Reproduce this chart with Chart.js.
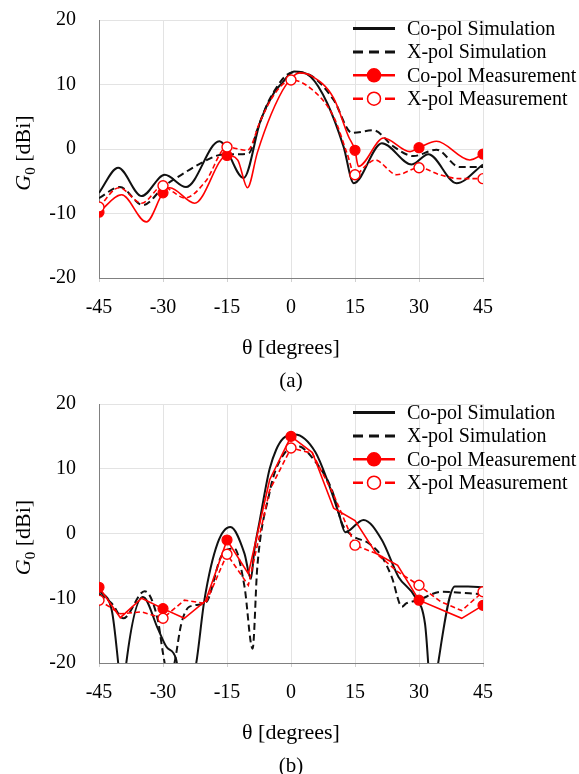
<!DOCTYPE html>
<html>
<head>
<meta charset="utf-8">
<script src="https://cdn.jsdelivr.net/npm/chart.js@4.4.1/dist/chart.umd.min.js"></script>
<style>
  html, body { margin: 0; padding: 0; background: #fff; }
  #wrap { position: relative; width: 579px; height: 774px; overflow: hidden; }
  .panel { position: absolute; left: 0; width: 579px; }
  #pa { top: 0; height: 396px; }
  #pb { top: 384px; height: 390px; }
</style>
</head>
<body>
<div id="wrap">
  <div class="panel" id="pa"><canvas id="chartA"></canvas></div>
  <div class="panel" id="pb"><canvas id="chartB"></canvas></div>
</div>
<script>
// ===== Data =====
const seriesLabels = ["Co-pol Simulation", "X-pol Simulation", "Co-pol Measurement", "X-pol Measurement"];
const thetaTicks = [-45, -30, -15, 0, 15, 30, 45];
const gainTicks = [-20, -10, 0, 10, 20];

// (a)
const aCoSimTheta = [-45, -40.5, -35, -29.6, -24.6, -16.8, -11.1, -7.1, -4, -2, 0.7, 4.6, 8.5, 12.3, 14.7, 21.3, 28.3, 32.2, 38.8, 45];
const aCoSimGain  = [-6.8, -2.9, -7.3, -4.0, -5.9, 1.2, -4.5, 4.5, 8.7, 10.3, 12.0, 11.2, 7.1, 0.4, -5.3, 0.9, -2.4, -0.8, -5.3, -2.4];

const aXSimTheta = [-45, -40.1, -34.7, -29.6, -25.7, -21.1, -16.4, -12, -9.8, -7.9, -4.7, 0.5, 4.6, 10.0, 14.3, 19.3, 24.0, 28.7, 34.1, 39.5, 45];
const aXSimGain  = [-7.6, -5.9, -8.7, -5.7, -4.0, -2.2, -0.9, -0.8, -0.6, 3.0, 8.1, 11.9, 11.4, 7.6, 2.5, 2.9, 0.4, -1.1, -0.1, -2.8, -2.8];

const aCoMeasTheta = [-45, -39.7, -33.9, -30, -28.4, -22.6, -15, -12.5, -10.2, -7.9, -4.7, -1.2, 2, 4.6, 10, 13.5, 15, 15.8, 21.7, 27.9, 30, 34.1, 41.9, 45];
const aCoMeasGain  = [-9.8, -7.1, -11.3, -6.8, -6.0, -8.4, -1.0, -1.7, -6.0, -0.6, 5.3, 9.9, 11.8, 11.4, 7.9, 1.9, -0.2, -2.7, 1.7, -0.4, 0.2, 1.2, -1.7, -0.8];
const aCoMarks = [-45, -30, -15, 15, 30, 45];

const aXMeasTheta = [-45, -40.3, -35, -30, -28, -24.9, -20, -15, -10.2, -7.1, -4, 0, 4.6, 10, 13.1, 15, 17.8, 19.7, 24.8, 30, 34.9, 39.5, 45];
const aXMeasGain  = [-9.0, -6.0, -8.4, -5.7, -6.5, -7.6, -5.0, 0.3, -0.2, 4.5, 8.4, 10.7, 9.4, 5.0, -0.6, -4.0, -2.4, -1.7, -4.0, -2.9, -4.0, -4.6, -4.6];
const aXMarks = [-45, -30, -15, 0, 15, 30, 45];

// (b)
const bCoSimTheta = [-45, -42, -40.5, -39.5, -38.6, -34.7, -31.2, -29.2, -26.9, -25, -22.2, -20.3, -17.2, -14.2, -10.9, -9.4, -8.6, -7.3, -5.9, -5.0, -3.5, -1.8, 0.9, 5.7, 8.8, 11.2, 12.7, 17.0, 21.3, 25.2, 29.1, 31.4, 33.2, 34.5, 38.4, 41.5, 45];
const bCoSimGain  = [-8.8, -11.9, -20, -27, -20, -9.8, -14.7, -17.5, -19.5, -28, -20, -10.3, -1.5, 1.0, -3.1, -7.0, -2.6, 2.1, 7.2, 10.0, 12.9, 14.7, 15.3, 12.6, 7.7, 3.1, 0.2, 2.1, -1.0, -6.7, -9.8, -13.9, -27, -20, -8.2, -8.2, -8.3];

const bXSimTheta = [-45, -42, -39.3, -34.3, -31.2, -30, -28.5, -27.3, -25.7, -23.8, -19.9, -16.4, -13.3, -10.9, -9.0, -7.9, -5.0, -3.6, 0.3, 1.5, 5.7, 9.6, 12, 14.3, 18.2, 21.3, 23.6, 26, 27, 29.8, 35.3, 45];
const bXSimGain  = [-9.3, -10.8, -13.1, -8.9, -13.4, -18.5, -23, -20, -13.9, -11.3, -10.6, -3.6, -2.3, -8.2, -17.8, -5.2, 6.4, 9.8, 13.4, 13.5, 11.1, 6.7, 1.5, -0.3, -1.5, -3.6, -6.7, -11.3, -10.8, -10.3, -9.0, -9.4];

const bMeasTheta = [-45, -40, -35, -30, -25, -20, -15, -10, -5, 0, 5, 10, 15, 20, 25, 30, 35, 40, 45];
const bCoMeasGain = [-8.3, -13.0, -10.0, -11.6, -13.1, -10.4, -1.0, -6.2, 8.3, 15.0, 12.5, 3.9, 2.0, -3.1, -4.9, -10.3, -11.7, -13.1, -11.1];
const bCoMarks = [-45, -30, -15, 0, 30, 45];
const bXMeasGain  = [-10.3, -12.4, -12.1, -13.1, -10.3, -10.8, -3.2, -8.0, 6.7, 13.2, 12.4, 6.0, -1.8, -3.1, -5.9, -8.0, -10.5, -11.9, -9.0];
const bXMarks = [-45, -30, -15, 0, 15, 30, 45];

// ===== Helpers =====
const SERIF = "'Liberation Serif', 'Times New Roman', serif";
const RED = "#ff0000";
const BLACK = "#111111";

function pts(theta, gain) {
  return theta.map((t, i) => ({ x: t, y: gain[i] }));
}

function markRadius(marks) {
  return (ctx) => (ctx.raw && marks.includes(ctx.raw.x) ? 5 : 0);
}

// titles, caption and legend drawn straight on the canvas
const decor = {
  id: "decor",
  afterDraw(chart, args, opts) {
    const { ctx, chartArea: a } = chart;
    ctx.save();

    // legend
    const lx0 = 353, lx1 = 395, tx = 407;
    chart.data.datasets.forEach((ds, i) => {
      const y = a.top + 8.5 + i * 23.4;
      ctx.strokeStyle = ds.borderColor;
      ctx.lineWidth = ds.borderColor === RED ? 2.4 : 3;
      ctx.setLineDash(ds.borderDash ? [10, 6] : []);
      ctx.beginPath();
      ctx.moveTo(lx0, y);
      ctx.lineTo(lx1, y);
      ctx.stroke();
      ctx.setLineDash([]);
      if (ds.legendMarker) {
        ctx.beginPath();
        ctx.arc((lx0 + lx1) / 2, y, 6.5, 0, Math.PI * 2);
        ctx.fillStyle = ds.pointBackgroundColor;
        ctx.fill();
        ctx.lineWidth = 1.5;
        ctx.strokeStyle = RED;
        ctx.stroke();
      }
      ctx.fillStyle = "#000";
      ctx.font = `20px ${SERIF}`;
      ctx.textAlign = "left";
      ctx.textBaseline = "middle";
      ctx.fillText(ds.label, tx, y + 1);
    });

    // x title and caption
    const cx = (a.left + a.right) / 2;
    ctx.fillStyle = "#000";
    ctx.textAlign = "center";
    ctx.textBaseline = "middle";
    ctx.font = `22px ${SERIF}`;
    ctx.fillText("θ [degrees]", cx, a.bottom + 70);
    ctx.font = `21px ${SERIF}`;
    ctx.fillText(opts.caption, cx, a.bottom + 103);

    // y title: G (italic) with subscript 0, then [dBi]
    ctx.translate(23, (a.top + a.bottom) / 2 + 4);
    ctx.rotate(-Math.PI / 2);
    ctx.textAlign = "left";
    ctx.textBaseline = "alphabetic";
    const fG = `italic 22px ${SERIF}`, fSub = `15px ${SERIF}`, fT = `22px ${SERIF}`;
    ctx.font = fG; const wG = ctx.measureText("G").width;
    ctx.font = fSub; const wS = ctx.measureText("0").width;
    ctx.font = fT; const wT = ctx.measureText(" [dBi]").width;
    let x = -(wG + wS + wT) / 2;
    const base = 7;
    ctx.font = fG; ctx.fillText("G", x, base); x += wG;
    ctx.font = fSub; ctx.fillText("0", x, base + 5); x += wS;
    ctx.font = fT; ctx.fillText(" [dBi]", x, base);

    ctx.restore();
  },
};

function makeChart(canvasId, d, caption, axisHeight, smoothMeas) {
  const meas = smoothMeas ? { cubicInterpolationMode: "monotone" } : { tension: 0 };
  const datasets = [
    { label: seriesLabels[0], data: pts(d.coSimT, d.coSimG), borderColor: BLACK, borderWidth: 2,
      pointRadius: 0, cubicInterpolationMode: "monotone", order: 3 },
    { label: seriesLabels[1], data: pts(d.xSimT, d.xSimG), borderColor: BLACK, borderWidth: 2,
      borderDash: [7, 4], pointRadius: 0, cubicInterpolationMode: "monotone", order: 2 },
    { label: seriesLabels[2], data: pts(d.coMeasT, d.coMeasG), borderColor: RED, borderWidth: 1.6,
      pointRadius: markRadius(d.coMarks), pointBackgroundColor: RED, pointBorderColor: RED,
      pointBorderWidth: 1.2, legendMarker: true, order: 1, ...meas },
    { label: seriesLabels[3], data: pts(d.xMeasT, d.xMeasG), borderColor: RED, borderWidth: 1.6,
      borderDash: [5, 3], pointRadius: markRadius(d.xMarks), pointBackgroundColor: "#ffffff",
      pointBorderColor: RED, pointBorderWidth: 1.4, legendMarker: true, order: 0, ...meas },
  ];

  return new Chart(document.getElementById(canvasId), {
    type: "line",
    data: { datasets },
    plugins: [decor],
    options: {
      responsive: true,
      maintainAspectRatio: false,
      animation: false,
      events: [],
      layout: { autoPadding: false, padding: { left: 0, right: 96, top: 20, bottom: 0 } },
      plugins: {
        legend: { display: false },
        tooltip: { enabled: false },
        title: { display: false },
        decor: { caption },
      },
      scales: {
        x: {
          type: "linear",
          min: -45,
          max: 45,
          afterFit: (s) => { s.height = axisHeight; s.paddingLeft = 0; s.paddingRight = 0; },
          afterBuildTicks: (s) => { s.ticks = thetaTicks.map((v) => ({ value: v })); },
          grid: { color: "#e3e3e3", lineWidth: 1, tickLength: 4, tickColor: "#d0d0d0" },
          border: { display: true, color: "#808080", width: 1 },
          ticks: { color: "#000", font: { family: SERIF, size: 20 }, padding: 14, maxRotation: 0 },
        },
        y: {
          min: -20,
          max: 20,
          afterFit: (s) => { s.width = 99; s.paddingTop = 0; s.paddingBottom = 0; },
          afterBuildTicks: (s) => { s.ticks = gainTicks.map((v) => ({ value: v })); },
          grid: { color: "#e3e3e3", lineWidth: 1, drawTicks: false },
          border: { display: true, color: "#808080", width: 1 },
          ticks: { color: "#000", font: { family: SERIF, size: 20 }, padding: 23 },
        },
      },
    },
  });
}

makeChart("chartA", {
  coSimT: aCoSimTheta, coSimG: aCoSimGain,
  xSimT: aXSimTheta, xSimG: aXSimGain,
  coMeasT: aCoMeasTheta, coMeasG: aCoMeasGain, coMarks: aCoMarks,
  xMeasT: aXMeasTheta, xMeasG: aXMeasGain, xMarks: aXMarks,
}, "(a)", 396 - 278, true);

makeChart("chartB", {
  coSimT: bCoSimTheta, coSimG: bCoSimGain,
  xSimT: bXSimTheta, xSimG: bXSimGain,
  coMeasT: bMeasTheta, coMeasG: bCoMeasGain, coMarks: bCoMarks,
  xMeasT: bMeasTheta, xMeasG: bXMeasGain, xMarks: bXMarks,
}, "(b)", 390 - 279, false);
</script>
</body>
</html>
